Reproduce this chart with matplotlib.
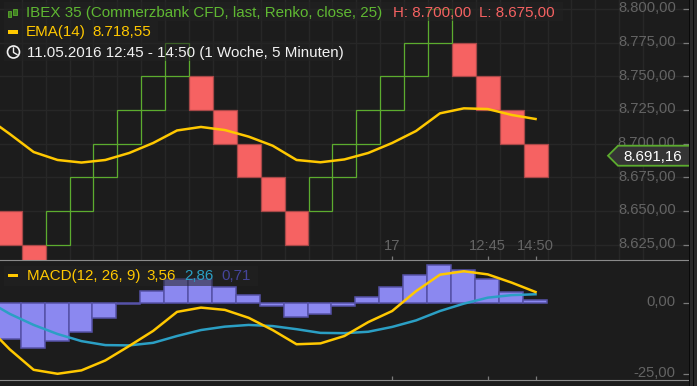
#!/usr/bin/env python3
"""
Renko chart of IBEX 35 with EMA(14) and a MACD panel below.
"""

import matplotlib
matplotlib.use("Agg")
import matplotlib.pyplot as plt
from matplotlib.patches import Ellipse, Polygon, Rectangle
from matplotlib.lines import Line2D
from matplotlib.transforms import ScaledTranslation

W, H = 697, 386
BG = "#1c1c1c"
GRID = "#272727"
GREEN = "#5cac2e"
GREEN_TEXT = "#5fb832"
RED = "#f66262"
RED_EDGE = "#a84848"
YELLOW = "#ffc800"
BLUE = "#2b9fc4"
HIST = "#8b88f0"
HIST_EDGE = "#5652a8"
GRAY = "#646464"
TICK = "#7a7a7a"
FONT = 10.9
AXIS_FONT = 10.6

# renko bricks, index 0 is the first one on the chart
brick_low = [8625, 8600, 8625, 8650, 8675, 8700, 8725, 8750, 8725, 8700, 8675, 8650,
             8625, 8650, 8675, 8700, 8725, 8750, 8775, 8750, 8725, 8700, 8675]
brick_up = [0, 0, 1, 1, 1, 1, 1, 1, 0, 0, 0, 0, 0, 1, 1, 1, 1, 1, 1, 0, 0, 0, 0]
BRICK = 25

# lines start one step left of the first brick
ema = [8720, 8707.3, 8693.9, 8688, 8686.1, 8688, 8693.2, 8700.6, 8709.9, 8712.5, 8710.2, 8705.3,
       8698.6, 8688, 8686.3, 8688.4, 8693.2, 8700.6, 8709.5, 8722.6, 8726.3, 8725.8, 8721.4, 8718.4]
macd = [-7.9, -16.5, -23.7, -25.1, -23.9, -20.4, -15.3, -10.0, -3.3, -1.8, -2.6, -5.4,
        -9.7, -14.7, -14.4, -11.8, -6.9, -3.0, 4.0, 9.8, 11.0, 9.9, 7.0, 3.7]
signal = [0.9, -4.0, -7.9, -11.1, -13.6, -15.0, -15.1, -14.2, -11.8, -9.7, -8.5, -7.9,
          -8.3, -9.4, -10.7, -10.8, -10.3, -8.6, -6.3, -3.0, -0.4, 1.7, 2.6, 2.9]
hist = [-12.7, -15.9, -13.7, -10.3, -5.3, -0.6, 4.2, 8.4, 8.2, 5.6, 2.5, -1.3,
        -5.0, -4.0, -1.3, 2.0, 5.6, 9.6, 13.1, 11.3, 8.3, 3.8, 0.77]

price_ticks = [8800, 8775, 8750, 8725, 8700, 8675, 8650, 8625]
price_labels = ["8.800,00", "8.775,00", "8.750,00", "8.725,00", "8.700,00", "8.675,00", "8.650,00", "8.625,00"]
macd_ticks = [0, -25]
macd_labels = ["0,00", "-25,00"]
time_ticks = [16, 20, 22]
time_labels = ["17", "12:45", "14:50"]
last_price = 8691.16
last_label = "8.691,16"

PX_PER_BRICK = 23.9
X0 = 9.75  # pixel of brick 0 centre


def px_axes(fig, left, top, right, bottom):
    return fig.add_axes([left / W, 1 - bottom / H, (right - left) / W, (bottom - top) / H])


def fx(x):
    return x / W


def fy(y):
    return 1 - y / H


def box(fig, x0, y0, x1, y1, **kw):
    fig.add_artist(Rectangle((fx(x0), fy(y1)), (x1 - x0) / W, (y1 - y0) / H,
                             transform=fig.transFigure, **kw))


def label(fig, x, y, s, color, ha="left"):
    # y is the text baseline in image pixels
    fig.text(fx(x), fy(y), s, color=color, fontsize=FONT, ha=ha, va="baseline",
             family="Liberation Sans", zorder=20)


def style_y_labels(ax, fig):
    # the labels sit a little above their tick mark
    lift = ScaledTranslation(0, 2.3 / 100, fig.dpi_scale_trans)
    for t in ax.get_yticklabels():
        t.set_ha("right")
        t.set_transform(t.get_transform() + lift)


def main():
    fig = plt.figure(figsize=(W / 100, H / 100), dpi=100, facecolor=BG)
    plt.rcParams["font.family"] = "Liberation Sans"

    xlim = ((0 - X0) / PX_PER_BRICK, (689 - X0) / PX_PER_BRICK)
    xs = list(range(-1, len(brick_low)))

    ax = px_axes(fig, 0, 0, 689, 260)
    ax.set_facecolor(BG)
    ax.set_xlim(xlim)
    # 33.7 px for 25 points, 8800 sits at y=9
    ax.set_ylim(8800 - (260 - 9) * 25 / 33.7, 8800 + 9 * 25 / 33.7)
    for p in price_ticks:
        ax.axhline(p, color=GRID, lw=1, zorder=1)
    for i in range(-1, 27):
        ax.axvline(i + 0.5, color=GRID, lw=1, zorder=1)
    for i, (low, up) in enumerate(zip(brick_low, brick_up)):
        if up:
            ax.add_patch(Rectangle((i - 0.5, low), 1, BRICK, fc="none", ec=GREEN, lw=0.9, zorder=3))
        else:
            ax.add_patch(Rectangle((i - 0.5, low), 1, BRICK, fc=RED, ec=RED_EDGE, lw=0.9, zorder=2))
    ax.plot(xs, ema, color=YELLOW, lw=1.8, zorder=4, solid_joinstyle="round")
    ax.set_yticks(price_ticks, labels=price_labels)
    ax.yaxis.tick_right()
    ax.tick_params(axis="y", direction="in", length=4.3, width=0.9, color=TICK, labelcolor=GRAY,
                   labelsize=AXIS_FONT, pad=-9.5)
    style_y_labels(ax, fig)
    ax.set_xticks(time_ticks, labels=time_labels)
    ax.tick_params(axis="x", direction="in", length=3, width=0.9, color=TICK, labelcolor=GRAY,
                   labelsize=AXIS_FONT, pad=-15)
    for s in ax.spines.values():
        s.set_visible(False)

    ax2 = px_axes(fig, 0, 260, 689, 380)
    ax2.set_facecolor(BG)
    ax2.set_xlim(xlim)
    # 2.84 px per unit, zero sits at y=302.5
    ax2.set_ylim(-(380 - 302.5) / 2.84, (302.5 - 260) / 2.84)
    ax2.bar([i - 0.04 for i in range(len(hist))], hist, width=1, color=HIST, edgecolor=HIST_EDGE, lw=1.1, zorder=2)
    ax2.plot(xs, macd, color=YELLOW, lw=1.8, zorder=4)
    ax2.plot(xs, signal, color=BLUE, lw=1.8, zorder=3)
    ax2.set_yticks(macd_ticks, labels=macd_labels)
    ax2.yaxis.tick_right()
    ax2.tick_params(axis="y", direction="in", length=4.3, width=0.9, color=TICK, labelcolor=GRAY,
                    labelsize=AXIS_FONT, pad=-9.5)
    style_y_labels(ax2, fig)
    ax2.set_xticks(time_ticks, labels=[])
    ax2.tick_params(axis="x", direction="in", length=3, width=0.9, color=TICK)
    for s in ax2.spines.values():
        s.set_visible(False)
    ax2.spines["top"].set_visible(True)
    ax2.spines["bottom"].set_visible(True)
    ax2.spines["top"].set_color("#8a8a8a")
    ax2.spines["bottom"].set_color("#8a8a8a")

    # right hand border
    box(fig, 689, 0, 690, H, fc="#0a0a0a", ec="none", zorder=10)
    box(fig, 690, 0, 693, H, fc="#2a2a2a", ec="none", zorder=10)
    box(fig, 693, 0, 694, H, fc="#0a0a0a", ec="none", zorder=10)
    box(fig, 694, 0, W, H, fc="#2a2a2a", ec="none", zorder=10)

    # legend strips
    strip = dict(fc="#232323", ec="none", alpha=0.55, zorder=15)
    box(fig, 4, 2, 563, 21, **strip)
    box(fig, 4, 21, 158, 41, **strip)
    box(fig, 4, 41, 350, 61, **strip)
    box(fig, 4, 266, 258, 286, **strip)

    label(fig, 26, 16.7, "IBEX 35 (Commerzbank CFD, last, Renko, close, 25)", GREEN_TEXT)
    label(fig, 393, 16.7, "H: 8.700,00", RED)
    label(fig, 479, 16.7, "L: 8.675,00", RED)
    label(fig, 26, 36, "EMA(14)", YELLOW)
    label(fig, 92, 36, "8.718,55", YELLOW)
    label(fig, 27, 56.5, "11.05.2016 12:45 - 14:50 (1 Woche, 5 Minuten)", "#f2f2f2")
    label(fig, 27, 280.3, "MACD(12, 26, 9)", YELLOW)
    label(fig, 146, 280.3, "3,56", YELLOW)
    label(fig, 184, 280.3, "2,86", BLUE)
    label(fig, 221, 280.3, "0,71", "#45459a")

    # legend icons
    candle = dict(fc="#3f7f22", ec=GREEN, lw=0.6, zorder=20)
    box(fig, 7.5, 11, 11, 17, **candle)
    box(fig, 13, 9, 16.5, 15, **candle)
    box(fig, 7.5, 30.5, 18, 33.5, fc=YELLOW, ec="none", zorder=20)
    box(fig, 7.5, 274, 18, 277, fc=YELLOW, ec="none", zorder=20)
    fig.add_artist(Ellipse((fx(13.5), fy(52)), 12 / W, 12 / H, fc="none", ec="#f2f2f2", lw=1.2,
                           transform=fig.transFigure, zorder=20))
    fig.add_artist(Line2D([fx(13.5), fx(13.5), fx(17)], [fy(48), fy(52.5), fy(54.5)], color="#f2f2f2", lw=1,
                          transform=fig.transFigure, zorder=20))

    # last price tag
    y_last = 9 + (8800 - last_price) * 33.7 / 25
    tag = [(689, y_last - 10), (618, y_last - 10), (608, y_last), (618, y_last + 10), (689, y_last + 10)]
    fig.add_artist(Polygon([(fx(a), fy(b)) for a, b in tag], closed=False, fc="#343434", ec=GREEN, lw=1.3,
                           transform=fig.transFigure, zorder=18))
    label(fig, 652.5, y_last + 5, last_label, "#ffffff", ha="center")

    fig.savefig("out.png", dpi=100, facecolor=BG)
    plt.close(fig)


if __name__ == "__main__":
    main()
